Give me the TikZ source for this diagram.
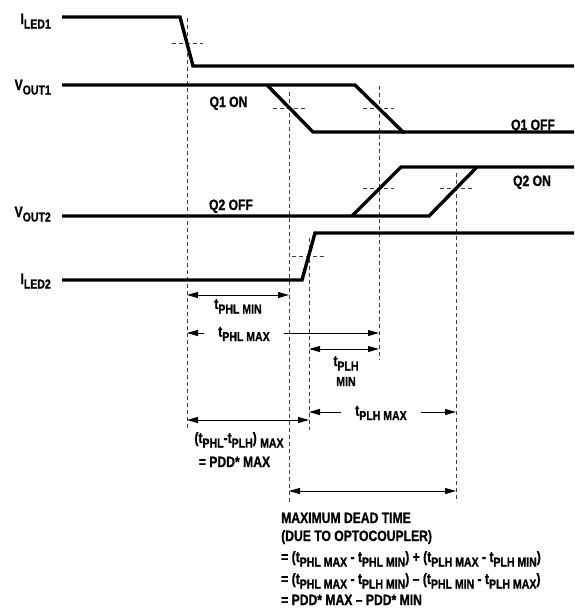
\documentclass[tikz,border=0pt]{standalone}
\usepackage{fontspec}
\setmainfont{Liberation Sans}[BoldFeatures={FakeBold=1.2}]
\usetikzlibrary{arrows.meta}
\newcommand{\sbs}[1]{\raisebox{-0.3em}{\fontsize{13}{13}\selectfont\bfseries #1}}
\newcommand{\T}[1]{\scalebox{0.81}[1]{#1}}
\begin{document}
\begin{tikzpicture}[x=1pt,y=-1pt,
  sig/.style={line width=3.4pt, line join=miter},
  guide/.style={line width=0.8pt, dash pattern=on 4pt off 3pt, black!75},
  dim/.style={line width=1pt, {Triangle[length=11pt,width=6pt]}-{Triangle[length=11pt,width=6pt]}},
  diml/.style={line width=1pt, {Triangle[length=11pt,width=6pt]}-},
  dimr/.style={line width=1pt, -{Triangle[length=11pt,width=6pt]}},
  lbl/.style={font=\fontsize{15}{16}\selectfont\bfseries, inner sep=0pt, anchor=base},
  sig name/.style={lbl, anchor=base east}]
\useasboundingbox (0,0) rectangle (574,611);

% ---- signal names
\node[sig name] (lI1) at (51,24) {\T{I\sbs{LED1}}};
\node[sig name] (lV1) at (51,90) {\T{V\sbs{OUT1}}};
\node[sig name] (lV2) at (51,217) {\T{V\sbs{OUT2}}};
\node[sig name] (lI2) at (51,284) {\T{I\sbs{LED2}}};

% ---- guides (vertical)
\coordinate (g1t) at (187,18);  \coordinate (g1b) at (187,428);
\coordinate (g2t) at (289,92);  \coordinate (g2b) at (289,502);
\coordinate (g3t) at (309,238); \coordinate (g3b) at (309,430);
\coordinate (g4t) at (379,86);  \coordinate (g4b) at (379,360);
\coordinate (g5t) at (456,173); \coordinate (g5b) at (456,502);
\draw[guide] (g1t) -- (g1b);
\draw[guide] (g2t) -- (g2b);
\draw[guide] (g3t) -- (g3b);
\draw[guide] (g4t) -- (g4b);
\draw[guide] (g5t) -- (g5b);
% ---- guides (horizontal ticks)
\coordinate (h1a) at (172,43);  \coordinate (h1b) at (203,43);
\coordinate (h2a) at (273,108); \coordinate (h2b) at (305,108);
\coordinate (h3a) at (363,108); \coordinate (h3b) at (394,108);
\coordinate (h4a) at (363,188); \coordinate (h4b) at (394,188);
\coordinate (h5a) at (440,188); \coordinate (h5b) at (472,188);
\coordinate (h6a) at (292,256); \coordinate (h6b) at (325,256);
\draw[guide] (h1a) -- (h1b);
\draw[guide] (h2a) -- (h2b);
\draw[guide] (h3a) -- (h3b);
\draw[guide] (h4a) -- (h4b);
\draw[guide] (h5a) -- (h5b);
\draw[guide] (h6a) -- (h6b);

% ---- waveforms
\draw[sig] (62,17) -- (180,17) -- (193,66) -- (574,66);
\draw[sig] (62,85) -- (355,85) -- (403,132) -- (574,132);
\draw[sig] (267,85) -- (313,132) -- (405,132);
\draw[sig] (62,216) -- (429,216) -- (477,167);
\draw[sig] (352,216) -- (401,167) -- (574,167);
\draw[sig] (62,280) -- (302,280) -- (315,233) -- (574,233);

% ---- state labels
\node[lbl] (q1on)  at (228.5,107) {\T{Q1 ON}};
\node[lbl] (q1off) at (533,130) {\T{Q1 OFF}};
\node[lbl] (q2on)  at (532,186) {\T{Q2 ON}};
\node[lbl] (q2off) at (231,210) {\T{Q2 OFF}};

% ---- dimensions
\coordinate (a1) at (187,295); \coordinate (b1) at (289,295);
\draw[dim] (a1) -- (b1);
\node[lbl] (tphlmin) at (238,309) {\T{t\sbs{PHL MIN}}};

\coordinate (a2) at (187,333); \coordinate (b2) at (379,333);
\node[lbl, anchor=center, inner xsep=14pt, inner ysep=4pt] (tphlmax) at (244,334) {\T{t\sbs{PHL MAX}}};
\draw[diml] (a2) -- (tphlmax.west |- a2);
\draw[dimr] (tphlmax.east |- b2) -- (b2);

\coordinate (a3) at (309,349); \coordinate (b3) at (379,349);
\draw[dim] (a3) -- (b3);
\node[lbl] (tplh) at (346,366) {\T{t\sbs{PLH}}};
\node[lbl] (tplhmin) at (346,386) {\T{\fontsize{13}{13}\selectfont\bfseries MIN}};

\coordinate (a4) at (309,412); \coordinate (b4) at (456,412);
\node[lbl, anchor=center, inner xsep=14pt, inner ysep=4pt] (tplhmax) at (381,413) {\T{t\sbs{PLH MAX}}};
\draw[diml] (a4) -- (tplhmax.west |- a4);
\draw[dimr] (tplhmax.east |- b4) -- (b4);

\coordinate (a5) at (187,420); \coordinate (b5) at (309,420);
\draw[dim] (a5) -- (b5);
\node[lbl] (pdd) at (239,443) {\T{(t\sbs{PHL}-t\sbs{PLH}) \sbs{MAX}}};
\node[lbl] (pdd2) at (234.5,467) {\T{= PDD* MAX}};

\coordinate (a6) at (289,491); \coordinate (b6) at (456,491);
\draw[dim] (a6) -- (b6);

\node[lbl, anchor=base west] (dt1) at (281,523) {\T{MAXIMUM DEAD TIME}};
\node[lbl, anchor=base west] (dt2) at (281,541) {\T{(DUE TO OPTOCOUPLER)}};
\node[lbl, anchor=base west] (dt3) at (281,562) {\T{= (t\sbs{PHL MAX} - t\sbs{PHL MIN}) + (t\sbs{PLH MAX} - t\sbs{PLH MIN})}};
\node[lbl, anchor=base west] (dt4) at (281,584) {\T{= (t\sbs{PHL MAX} - t\sbs{PLH MIN}) -- (t\sbs{PHL MIN} - t\sbs{PLH MAX})}};
\node[lbl, anchor=base west] (dt5) at (281,605) {\T{= PDD* MAX -- PDD* MIN}};
\end{tikzpicture}
\end{document}
